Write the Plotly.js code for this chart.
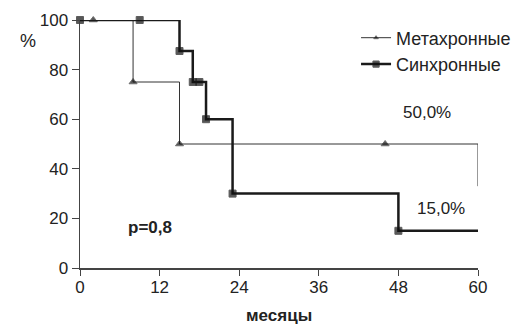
<!DOCTYPE html>
<html><head><meta charset="utf-8">
<script src="https://cdn.plot.ly/plotly-3.0.1.min.js"></script>
<style>body{margin:0;padding:0;background:#fff}#c{width:516px;height:325px}</style>
</head><body><div id="c"></div>
<script>
const metaMonths = [0, 2, 8, 15, 46, 60, 60];
const metaSurv   = [100, 100, 75, 50, 50, 50, 33];
const metaMarks  = [0, 1, 1, 1, 1, 0, 0];
const synMonths  = [0, 9, 15, 17, 18, 19, 23, 48, 60];
const synSurv    = [100, 100, 87.5, 75, 75, 60, 30, 15, 15];
const synMarks   = [1, 1, 1, 1, 1, 1, 1, 1, 0];
const xTicks = [0, 12, 24, 36, 48, 60];
const yTicks = [0, 20, 40, 60, 80, 100];
const seriesNames = ['Метахронные', 'Синхронные'];

const font = 'Liberation Sans, Arial, sans-serif';
const traces = [
  {x: metaMonths, y: metaSurv, name: seriesNames[0], legendgroup: 'a', mode: 'lines+markers',
   line: {shape: 'hv', color: '#333', width: 1},
   marker: {symbol: 'triangle-up', size: metaMarks.map(v => v ? 7 : 0), color: '#111'},
   cliponaxis: false},
  {x: synMonths, y: synSurv, name: seriesNames[1], legendgroup: 'b', mode: 'lines+markers',
   line: {shape: 'hv', color: '#1a1a1a', width: 2.5},
   marker: {symbol: 'square', size: synMarks.map(v => v ? 7 : 0), color: '#111'},
   cliponaxis: false}
];
const layout = {
  width: 516, height: 325,
  margin: {l: 80, r: 38, t: 20, b: 57, autoexpand: false},
  paper_bgcolor: '#fff', plot_bgcolor: '#fff',
  font: {family: font, size: 17, color: '#222'},
  showlegend: true,
  legend: {xref: 'container', yref: 'container', x: 0.69, xanchor: 'left', y: 0.94, yanchor: 'top',
           font: {size: 18, color: '#222'}, traceorder: 'grouped',
           bgcolor: 'rgba(0,0,0,0)', tracegroupgap: 0, itemwidth: 30},
  xaxis: {range: [0, 60], tickvals: xTicks, ticktext: xTicks.map(String),
          showgrid: false, zeroline: false, showline: true, linecolor: '#444', linewidth: 1.5,
          ticks: 'outside', ticklen: 6, tickcolor: '#444', tickfont: {size: 17, color: '#222'},
          ticklabelstandoff: -3},
  yaxis: {range: [0, 100], tickvals: yTicks, ticktext: yTicks.map(String),
          showgrid: false, zeroline: false, showline: true, linecolor: '#444', linewidth: 1.5,
          ticks: 'outside', ticklen: 7, tickcolor: '#444', tickfont: {size: 17, color: '#222'}},
  annotations: [
    {xref: 'paper', yref: 'paper', x: 0.5, y: -0.19, yanchor: 'middle', text: '<b>месяцы</b>', showarrow: false,
     font: {size: 17, color: '#222'}},
    {xref: 'paper', yref: 'paper', x: -0.156, y: 0.915, yanchor: 'middle', text: '%', showarrow: false,
     font: {size: 18, color: '#222'}},
    {xref: 'x', yref: 'y', x: 10.6, y: 16.5, yanchor: 'middle', text: '<b>p=0,8</b>', showarrow: false,
     font: {size: 17, color: '#222'}},
    {xref: 'x', yref: 'y', x: 52.3, y: 62.7, yanchor: 'middle', text: '50,0%', showarrow: false,
     font: {size: 17, color: '#222'}},
    {xref: 'x', yref: 'y', x: 54.4, y: 23.8, yanchor: 'middle', text: '15,0%', showarrow: false,
     font: {size: 17, color: '#222'}}
  ]
};
Plotly.newPlot('c', traces, layout, {displayModeBar: false, staticPlot: true});
</script></body></html>
